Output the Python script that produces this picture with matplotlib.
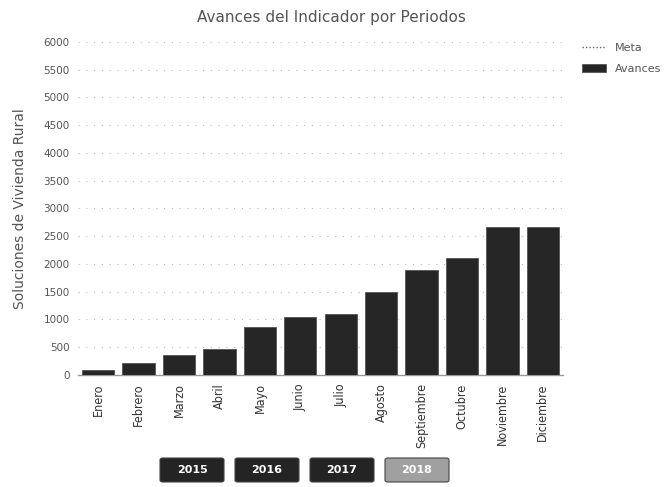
import numpy as np
import matplotlib
matplotlib.use("Agg")
import matplotlib.pyplot as plt
from matplotlib.patches import FancyBboxPatch

meses = ["Enero", "Febrero", "Marzo", "Abril", "Mayo", "Junio", "Julio",
         "Agosto", "Septiembre", "Octubre", "Noviembre", "Diciembre"]
avances = [90, 210, 360, 470, 870, 1050, 1100, 1490, 1900, 2100, 2670, 2670]
meta = [np.nan] * 12
y_ticks = [0, 500, 1000, 1500, 2000, 2500, 3000, 3500, 4000, 4500, 5000, 5500, 6000]
anios = ["2015", "2016", "2017", "2018"]
anio_activo = "2018"

plt.rcParams['font.family'] = ['DejaVu Sans']

fig = plt.figure(figsize=(6.69, 4.87), dpi=100)
ax = fig.add_axes([0.1166, 0.230, 0.725, 0.6838])

x = np.arange(len(meses))
ax.bar(x, avances, width=0.8, color="#262626", edgecolor="#555555",
       linewidth=0.6, label="Avances", zorder=3)
ax.plot(x, meta, color="#666666", linestyle=(0, (1, 1.5)), linewidth=1,
        label="Meta", zorder=4)

ax.set_xlim(-0.5, len(meses) - 0.5)
ax.set_ylim(0, 6000)
ax.set_yticks(y_ticks)
ax.set_yticklabels([str(v) for v in y_ticks], fontsize=7.5, color="#555555")
ax.set_xticks(x)
ax.set_xticklabels(meses, rotation=90, fontsize=9, color="#333333",
                   fontstretch="condensed", va="top")
ax.tick_params(axis="both", length=0, pad=6)
ax.grid(axis="y", color="#bbbbbb", linestyle=(0, (1, 6)), linewidth=0.8, zorder=0)
for side in ["top", "right", "left"]:
    ax.spines[side].set_visible(False)
ax.spines["bottom"].set_color("#999999")
ax.spines["bottom"].set_linewidth(1)

ax.set_ylabel("Soluciones de Vivienda Rural", fontsize=10, color="#555555",
              labelpad=12)
fig.text(0.495, 0.965, "Avances del Indicador por Periodos", ha="center",
         va="center", fontsize=11, color="#555555")

handles, labels = ax.get_legend_handles_labels()
order = [labels.index("Meta"), labels.index("Avances")]
ax.legend([handles[i] for i in order], [labels[i] for i in order],
          loc="upper left", bbox_to_anchor=(1.03, 1.01), frameon=False,
          fontsize=8, labelcolor="#555555", handlelength=2.2,
          labelspacing=1.0, borderaxespad=0)

# year selector buttons
btn_w, btn_h, gap = 64, 24, 11
x0 = 160
y0 = 487 - 482
for i, a in enumerate(anios):
    left = (x0 + i * (btn_w + gap)) / 669
    color = "#a0a0a0" if a == anio_activo else "#242424"
    patch = FancyBboxPatch((left, y0 / 487), btn_w / 669, btn_h / 487,
                           boxstyle="round,pad=0,rounding_size=0.004",
                           transform=fig.transFigure, facecolor=color,
                           edgecolor="#444444", linewidth=0.8)
    fig.add_artist(patch)
    fig.text(left + btn_w / 669 / 2, (y0 + btn_h / 2) / 487, a,
             ha="center", va="center", fontsize=8, color="white",
             fontweight="bold")

fig.savefig("out.png", dpi=100)
